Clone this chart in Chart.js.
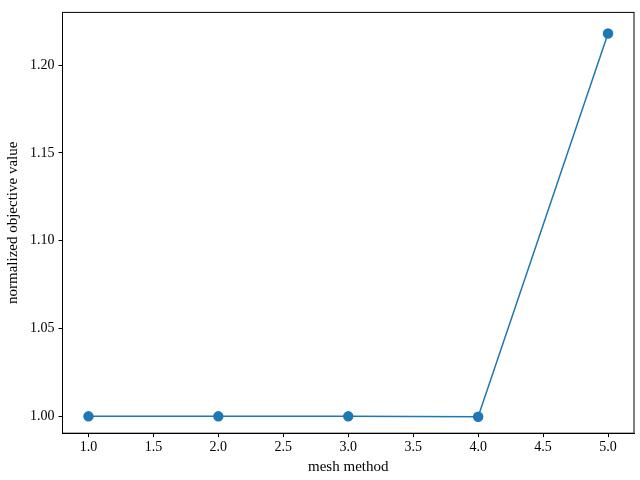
<!DOCTYPE html>
<html><head><meta charset="utf-8">
<script src="https://cdn.jsdelivr.net/npm/chart.js@4"></script>
<style>html,body{margin:0;padding:0;background:#fff}#w{width:640px;height:480px}</style>
</head><body><div id="w"><canvas id="c" width="640" height="480"></canvas></div>
<script>
const meshMethods = [1, 2, 3, 4, 5];
const objectiveValues = [1.0, 1.0, 1.0, 0.9998, 1.218];
const xLabel = "mesh method";
const yLabel = "normalized objective value";
const font = {family: "'Liberation Serif', 'DejaVu Serif', serif", size: 14};
const grid = {display: true, drawOnChartArea: false, drawTicks: true, tickLength: 4, color: '#000'};
new Chart(document.getElementById('c'), {
  type: 'line',
  data: {datasets: [{
    data: meshMethods.map((x, i) => ({x, y: objectiveValues[i]})),
    borderColor: '#1f77b4', backgroundColor: '#1f77b4', borderWidth: 1.5,
    pointRadius: 4.5, pointHoverRadius: 4.5, tension: 0
  }]},
  options: {
    responsive: false, animation: false,
    layout: {padding: {top: 4, right: 4, left: 0, bottom: 0}},
    plugins: {legend: {display: false}, tooltip: {enabled: false}},
    scales: {
      x: {type: 'linear', min: 0.8, max: 5.2,
        afterBuildTicks: a => { a.ticks = [1,1.5,2,2.5,3,3.5,4,4.5,5].map(v => ({value: v})); },
        ticks: {color: '#000', font, callback: v => v.toFixed(1), maxRotation: 0, padding: 2},
        grid, border: {display: true, color: '#000', width: 1},
        title: {display: true, text: xLabel, color: '#000', font: {...font, size: 15}, padding: {top: 0}}},
      y: {min: 0.9904, max: 1.23,
        afterBuildTicks: a => { a.ticks = [1,1.05,1.1,1.15,1.2].map(v => ({value: v})); },
        ticks: {color: '#000', font, callback: v => v.toFixed(2), padding: 4},
        grid, border: {display: true, color: '#000', width: 1},
        title: {display: true, text: yLabel, color: '#000', font: {...font, size: 15}, padding: {bottom: 4}}}
    }
  },
  plugins: [{id: 'frame', afterDraw(ch) {
    const a = ch.chartArea, c = ch.ctx;
    c.save(); c.strokeStyle = '#000'; c.lineWidth = 1;
    c.strokeRect(a.left, a.top, a.right - a.left, a.bottom - a.top); c.restore();
  }}]
});
</script></body></html>
